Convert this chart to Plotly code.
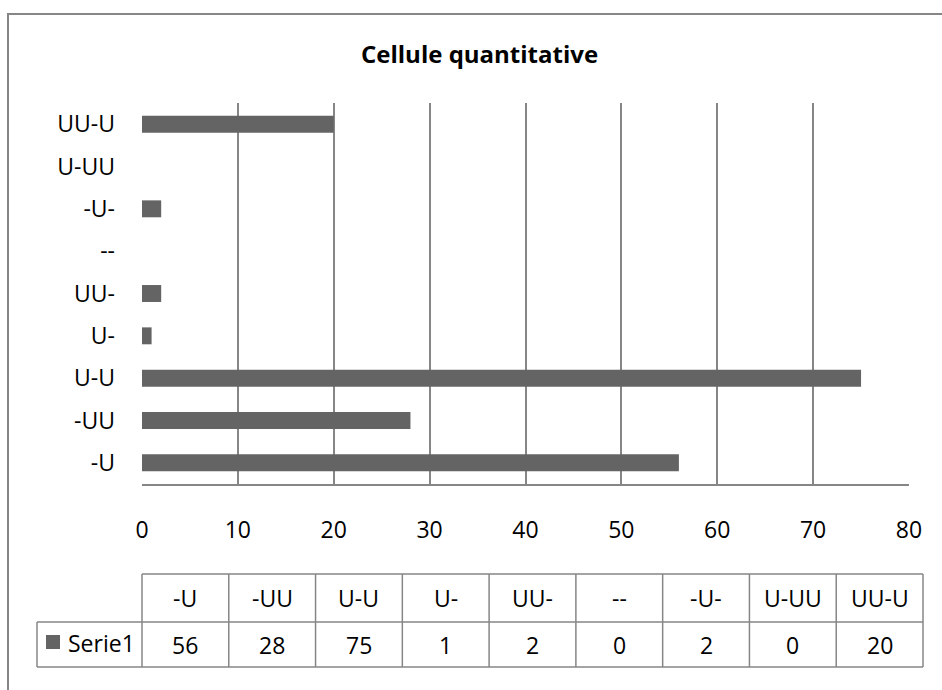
import plotly.graph_objects as go

# ---- data ----
categories = ["-U", "-UU", "U-U", "U-", "UU-", "--", "-U-", "U-UU", "UU-U"]
values = [56, 28, 75, 1, 2, 0, 2, 0, 20]
series_name = "Serie1"
title_text = "Cellule quantitative"
x_ticks = [0, 10, 20, 30, 40, 50, 60, 70, 80]

W, H = 942, 690
FONT = "Open Sans, Noto Sans, sans-serif"
GRID = "#868686"
BAR = "#646464"


def px(x):
    return x / W


def py(y):
    return 1 - y / H


# plot area in pixels
PL, PR, PT, PB = 142, 909, 103, 484

fig = go.Figure()
fig.add_trace(go.Bar(
    x=values, y=categories, orientation="h",
    marker=dict(color=BAR, line=dict(width=0)),
    name=series_name, showlegend=False,
))

shapes = []
annotations = []

# outer chart border (extends beyond right / bottom edges)
shapes.append(dict(type="rect", xref="paper", yref="paper",
                   x0=px(8), x1=px(W + 10), y0=py(14), y1=py(H + 10),
                   line=dict(color=GRID, width=2), fillcolor="rgba(0,0,0,0)",
                   layer="below"))

# title
annotations.append(dict(text="<b>" + title_text + "</b>", xref="paper", yref="paper",
                        x=px(479), y=py(54), xanchor="center", yanchor="middle",
                        showarrow=False, font=dict(family=FONT, size=24, color="#000")))

# data table
TL, TR = 142, 923
HL = 37
T_TOP, T_MID, T_BOT = 574, 622, 667
n = len(categories)
cw = (TR - TL) / n
lw = dict(color=GRID, width=1.5)
# horizontal lines
shapes.append(dict(type="line", xref="paper", yref="paper", x0=px(TL), x1=px(TR),
                   y0=py(T_TOP), y1=py(T_TOP), line=lw))
shapes.append(dict(type="line", xref="paper", yref="paper", x0=px(HL), x1=px(TR),
                   y0=py(T_MID), y1=py(T_MID), line=lw))
shapes.append(dict(type="line", xref="paper", yref="paper", x0=px(HL), x1=px(TR),
                   y0=py(T_BOT), y1=py(T_BOT), line=lw))
# vertical lines
shapes.append(dict(type="line", xref="paper", yref="paper", x0=px(HL), x1=px(HL),
                   y0=py(T_MID), y1=py(T_BOT), line=lw))
for i in range(n + 1):
    xx = TL + i * cw
    shapes.append(dict(type="line", xref="paper", yref="paper", x0=px(xx), x1=px(xx),
                       y0=py(T_TOP), y1=py(T_BOT), line=lw))
for i, (c, v) in enumerate(zip(categories, values)):
    cx = TL + (i + 0.5) * cw
    annotations.append(dict(text=c, xref="paper", yref="paper", x=px(cx),
                            y=py((T_TOP + T_MID) / 2), xanchor="center", yanchor="middle",
                            showarrow=False, font=dict(family=FONT, size=23, color="#000")))
    annotations.append(dict(text=str(v), xref="paper", yref="paper", x=px(cx),
                            y=py((T_MID + T_BOT) / 2), xanchor="center", yanchor="middle",
                            showarrow=False, font=dict(family=FONT, size=23, color="#000")))
# legend key + series name
shapes.append(dict(type="rect", xref="paper", yref="paper", x0=px(46), x1=px(60),
                   y0=py(635), y1=py(649), fillcolor=BAR, line=dict(width=0)))
annotations.append(dict(text=series_name, xref="paper", yref="paper", x=px(66),
                        y=py(643), xanchor="left", yanchor="middle", showarrow=False,
                        font=dict(family=FONT, size=23, color="#000")))

fig.update_layout(
    width=W, height=H,
    margin=dict(l=0, r=0, t=0, b=0, pad=0),
    paper_bgcolor="white", plot_bgcolor="white",
    bargap=0.6,
    showlegend=False,
    shapes=shapes,
    annotations=annotations,
    font=dict(family=FONT, size=23, color="#000"),
    xaxis=dict(
        domain=[px(PL), px(PR)], range=[0, 80], tickvals=x_ticks,
        showgrid=True, gridcolor=GRID, gridwidth=1.5,
        showline=True, linecolor=GRID, linewidth=1.5,
        zeroline=False, ticks="", ticklabelstandoff=25,
        tickfont=dict(family=FONT, size=23, color="#000"),
        fixedrange=True, automargin=False,
    ),
    yaxis=dict(
        domain=[py(PB), py(PT)], type="category",
        categoryorder="array", categoryarray=categories,
        showgrid=False, showline=False, zeroline=False,
        ticks="", ticklabelstandoff=26,
        tickfont=dict(family=FONT, size=23, color="#000"),
        fixedrange=True, automargin=False,
    ),
)

fig.write_html("out.html")
